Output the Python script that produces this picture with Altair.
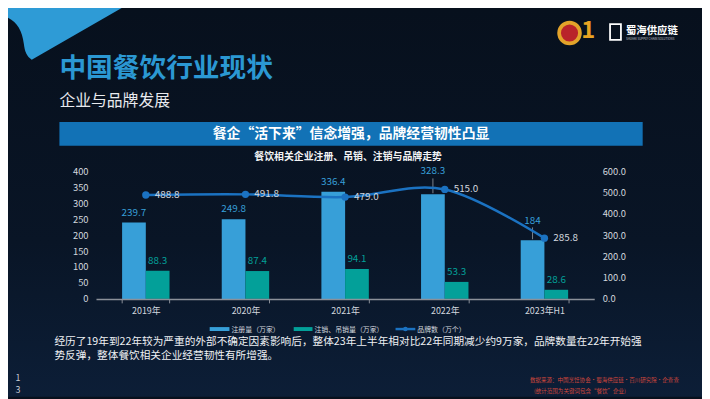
import altair as alt
import pandas as pd

FONT = "Noto Sans CJK SC"

# ---------------- data ----------------
years = ["2019年", "2020年", "2021年", "2022年", "2023年H1"]
registered = [239.7, 249.8, 336.4, 328.3, 184]
cancelled = [88.3, 87.4, 94.1, 53.3, 28.6]
brands = [488.8, 491.8, 479.0, 515.0, 285.8]
reg_labels = ["239.7", "249.8", "336.4", "328.3", "184"]
cancel_labels = ["88.3", "87.4", "94.1", "53.3", "28.6"]
brand_labels = ["488.8", "491.8", "479.0", "515.0", "285.8"]
series_names = ["注册量（万家）", "注销、吊销量（万家）"]
line_name = "品牌数（万个）"
left_ticks = [0, 50, 100, 150, 200, 250, 300, 350, 400]
right_ticks = [0, 100, 200, 300, 400, 500, 600]

title_text = "中国餐饮行业现状"
subtitle_text = "企业与品牌发展"
banner_text = "餐企“活下来”信念增强，品牌经营韧性凸显"
chart_title_text = "餐饮相关企业注册、吊销、注销与品牌走势"
para_lines = [
    "经历了19年到22年较为严重的外部不确定因素影响后，整体23年上半年相对比22年同期减少约9万家，品牌数量在22年开始强",
    "势反弹，整体餐饮相关企业经营韧性有所增强。",
]
source_lines = ["数据来源：中国烹饪协会·蜀海供应链·百川研究院·企查查", "(统计范围为关键词包含“餐饮”企业)"]
page_digits = ["1", "3"]
logo_text = "蜀海供应链"
logo_sub = "SHUHAI SUPPLY CHAIN SOLUTIONS"

# ---------------- layout helpers ----------------
OX, OY = 97, 171          # reference-pixel position of plot origin
W, H = 504, 129


def vx(x):
    return x - OX


def vy(y):
    return y - OY


BLUE = "#379fd8"
TEAL = "#03a099"
LINE = "#1b72c1"
TXT = "#d3d7de"

bars_df = pd.DataFrame({
    "year": years * 2,
    "series": [series_names[0]] * len(years) + [series_names[1]] * len(years),
    "value": registered + cancelled,
    "label": reg_labels + cancel_labels,
})
line_df = pd.DataFrame({"year": years, "value": brands, "label": brand_labels})

x_enc = alt.X(
    "year:N", sort=years,
    scale=alt.Scale(paddingInner=0.524, paddingOuter=0.262),
    axis=alt.Axis(title=None, labelAngle=0, tickBand="extent", domainColor="#8b9099",
                  domainWidth=1.5, tickColor="#8b9099", tickSize=4, tickWidth=1,
                  labelColor=TXT, labelFontSize=9, labelFont=FONT, labelPadding=4, grid=False,
                  zindex=1),
)

y_left = alt.Y(
    "value:Q", scale=alt.Scale(domain=[0, 400], nice=False),
    axis=alt.Axis(title=None, values=left_ticks, domain=False, ticks=False, grid=False,
                  labelColor=TXT, labelFontSize=9.5, labelFont=FONT, labelPadding=8, zindex=1),
)
y_right = alt.Y(
    "value:Q", scale=alt.Scale(domain=[0, 600], nice=False),
    axis=alt.Axis(title=None, orient="right", values=right_ticks, format=".1f", domain=False,
                  ticks=False, grid=False, labelColor=TXT, labelFontSize=9.5, labelFont=FONT,
                  labelPadding=8, zindex=1),
)

color_enc = alt.Color("series:N", sort=series_names,
                      scale=alt.Scale(domain=series_names, range=[BLUE, TEAL]), legend=None)

base_b = alt.Chart(bars_df).encode(
    x=x_enc,
    xOffset=alt.XOffset("series:N", sort=series_names),
    y=y_left,
    color=color_enc,
)

bars = base_b.mark_bar()

raised_expr = (f"datum.series === '{series_names[0]}' && "
               f"(datum.year === '{years[3]}' || datum.year === '{years[4]}')")

normal_labels = base_b.mark_text(dy=-10, fontSize=10, font=FONT).encode(
    text="label:N").transform_filter(f"!({raised_expr})")

raised_a = base_b.mark_text(dy=-23, fontSize=10, font=FONT).encode(text="label:N").transform_filter(
    f"datum.series === '{series_names[0]}' && datum.year === '{years[3]}'")
raised_b = base_b.mark_text(dy=-19, fontSize=10, font=FONT).encode(text="label:N").transform_filter(
    f"datum.series === '{series_names[0]}' && datum.year === '{years[4]}'")

lead_a = base_b.mark_rule(strokeWidth=0.8, yOffset=-1, y2Offset=-16).encode(
    y2="value:Q", color=alt.value("#9aa0a8")).transform_filter(
    f"datum.series === '{series_names[0]}' && datum.year === '{years[3]}'")
lead_b = base_b.mark_rule(strokeWidth=0.8, yOffset=-1, y2Offset=-13).encode(
    y2="value:Q", color=alt.value("#9aa0a8")).transform_filter(
    f"datum.series === '{series_names[0]}' && datum.year === '{years[4]}'")

left = alt.layer(bars, normal_labels, raised_a, raised_b, lead_a, lead_b)

base_l = alt.Chart(line_df).encode(x=x_enc, y=y_right)
line = base_l.mark_line(interpolate="cardinal", color=LINE, strokeWidth=2.5)
pts = base_l.mark_point(filled=True, size=55, color=LINE, opacity=1)
line_lbl = base_l.mark_text(align="left", baseline="middle", dx=9, font=FONT, fontSize=10,
                            color=TXT).encode(text="label:N")
right = alt.layer(line, pts, line_lbl)


# ---------------- decoration ----------------
def one(t=""):
    return pd.DataFrame({"t": [t]})


def text_at(t, x, y, **kw):
    kw.setdefault("font", FONT)
    kw.setdefault("baseline", "middle")
    return alt.Chart(one(t)).mark_text(**kw).encode(
        x=alt.value(vx(x)), y=alt.value(vy(y)), text="t:N")


def rect_at(x1, y1, x2, y2, **kw):
    return alt.Chart(one()).mark_rect(**kw).encode(
        x=alt.value(vx(x1)), x2=alt.value(vx(x2)), y=alt.value(vy(y1)), y2=alt.value(vy(y2)))


bg = rect_at(8, 8, 710, 399, color=alt.Gradient(
    gradient="linear", x1=0, y1=0, x2=0, y2=1,
    stops=[alt.GradientStop(color="#07101d", offset=0),
           alt.GradientStop(color="#091526", offset=0.6),
           alt.GradientStop(color="#0c1e37", offset=1)]))

corner_path = ("M -1 -1 L 13.6 -1 L 13.3 0 L 3.2 5.8 C 2.7 5.5 2.5 5.0 2.4 4.2 "
               "C 2.2 2.6 1.5 1.6 0 1.3 L -1 1.2 Z")
corner = alt.Chart(one()).mark_point(shape=corner_path, size=400, filled=True, opacity=1,
                                     color="#2e9bd6").encode(
    x=alt.value(vx(0)), y=alt.value(vy(0)))

title = text_at(title_text, 60, 68, align="left", fontSize=27, fontWeight="bold", color="#2b98d3")
subtitle = text_at(subtitle_text, 60, 100, align="left", fontSize=16, color="#e8eaee")

banner = rect_at(60, 121, 650, 145, color="#1272b6")
banner_t = text_at(banner_text, 355, 133, align="center", fontSize=14, fontWeight="bold",
                   color="#ffffff")
ctitle = text_at(chart_title_text, 352, 157, align="center", fontSize=10, fontWeight="bold",
                 color="#f2f3f5")

# legend
leg = [
    rect_at(212, 328.5, 232, 332.5, color=BLUE),
    text_at(series_names[0], 234, 331, align="left", fontSize=7, color=TXT),
    rect_at(297, 328.5, 316, 332.5, color=TEAL),
    text_at(series_names[1], 318, 331, align="left", fontSize=7, color=TXT),
    alt.Chart(one()).mark_rule(color=LINE, strokeWidth=2.5).encode(
        x=alt.value(vx(400)), x2=alt.value(vx(420)), y=alt.value(vy(330.5))),
    alt.Chart(one()).mark_point(filled=True, size=22, color=LINE, opacity=1).encode(
        x=alt.value(vx(410)), y=alt.value(vy(330.5))),
    text_at(line_name, 422, 331, align="left", fontSize=7, color=TXT),
]

paras = [text_at(t, 55, 344 + i * 14, align="left", fontSize=10.8, color="#eef0f3")
         for i, t in enumerate(para_lines)]
sources = [text_at(t, 536 + i * 4, 382 + i * 11, align="left", fontSize=5.6, color="#d2473c")
           for i, t in enumerate(source_lines)]
pages = [text_at(t, 18, 380 + i * 12, align="center", fontSize=9, color="#c8ccd4")
         for i, t in enumerate(page_digits)]

logos = [
    alt.Chart(one()).mark_point(filled=True, size=616, color="#e3a32a", opacity=1).encode(
        x=alt.value(vx(576)), y=alt.value(vy(31))),
    alt.Chart(one()).mark_point(filled=True, size=300, color="#b9232a", opacity=1).encode(
        x=alt.value(vx(576)), y=alt.value(vy(31))),
    text_at("1", 595, 29, align="center", fontSize=24, fontWeight="bold", color="#e8a422"),
    rect_at(617, 22, 628, 38, filled=False, stroke="#ffffff", strokeWidth=1.8),
    text_at(logo_text, 633, 29.5, align="left", fontSize=10.5, fontWeight="bold", color="#ffffff"),
    text_at(logo_sub, 633, 37, align="left", fontSize=3, color="#c8ccd4"),
]

chart = alt.layer(
    bg, corner, title, subtitle, banner, banner_t, ctitle, *logos,
    left, right, *leg, *paras, *sources, *pages,
).resolve_scale(y="independent").properties(
    width=W, height=H,
    autosize=alt.AutoSizeParams(type="none"),
    padding={"left": 89, "top": 163, "right": 109, "bottom": 99},
    background="#07101d",
).configure_view(strokeWidth=0)

chart.save("out.html", embed_options={"renderer": "svg", "actions": False})
